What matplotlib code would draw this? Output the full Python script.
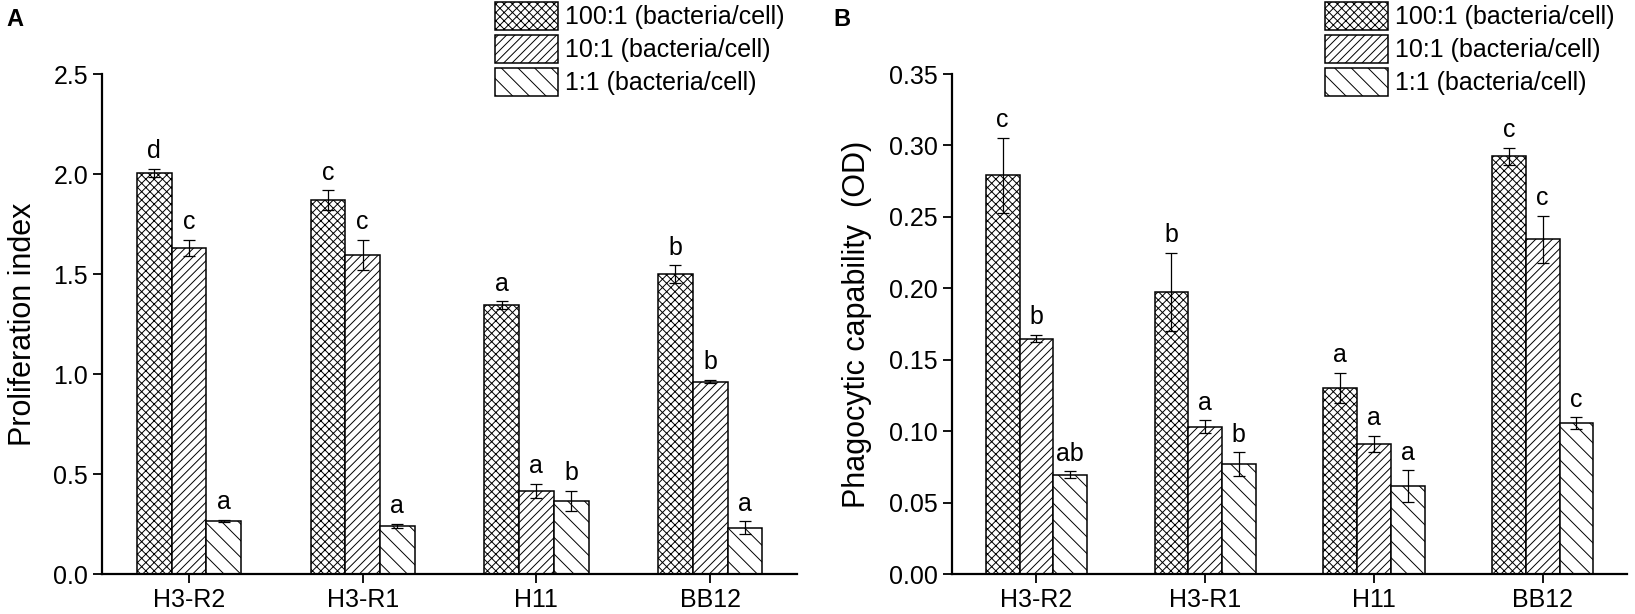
import numpy as np
import matplotlib
matplotlib.use("Agg")
import matplotlib.pyplot as plt
from matplotlib.patches import Patch

plt.rcParams['font.family'] = ['Liberation Sans', 'DejaVu Sans']
plt.rcParams['hatch.linewidth'] = 0.7

categories = ["H3-R2", "H3-R1", "H11", "BB12"]
series_labels = ["100:1 (bacteria/cell)", "10:1 (bacteria/cell)", "1:1 (bacteria/cell)"]

# Panel A: Proliferation index
a_100 = [2.005, 1.870, 1.345, 1.498]
a_100_err = [0.020, 0.048, 0.018, 0.045]
a_10 = [1.630, 1.594, 0.415, 0.962]
a_10_err = [0.040, 0.076, 0.037, 0.008]
a_1 = [0.266, 0.241, 0.365, 0.231]
a_1_err = [0.005, 0.010, 0.050, 0.033]
a_letters_100 = ["d", "c", "a", "b"]
a_letters_10 = ["c", "c", "a", "b"]
a_letters_1 = ["a", "a", "b", "a"]
a_yticks = [0.0, 0.5, 1.0, 1.5, 2.0, 2.5]

# Panel B: Phagocytic capability (OD)
b_100 = [0.2790, 0.1975, 0.1305, 0.2924]
b_100_err = [0.0265, 0.0273, 0.0105, 0.0060]
b_10 = [0.1647, 0.1030, 0.0911, 0.2343]
b_10_err = [0.0026, 0.0045, 0.0056, 0.0166]
b_1 = [0.0695, 0.0769, 0.0613, 0.1056]
b_1_err = [0.0025, 0.0084, 0.0112, 0.0040]
b_letters_100 = ["c", "b", "a", "c"]
b_letters_10 = ["b", "a", "a", "c"]
b_letters_1 = ["ab", "b", "a", "c"]
b_yticks = [0.00, 0.05, 0.10, 0.15, 0.20, 0.25, 0.30, 0.35]

hatches = ["xxxx", "////", "\\\\"]
FS = 18

fig = plt.figure(figsize=(16.35, 6.14), dpi=100)
axA = fig.add_axes([102/1635, 40/614, 695/1635, 500/614])
axB = fig.add_axes([952/1635, 40/614, 675/1635, 500/614])


def draw(ax, vals, errs, letters, yticks, fmt, ylabel, ylabel_x):
    x = np.arange(len(categories))
    w = 0.2
    ymax = yticks[-1]
    for i, (v, e, lt, h) in enumerate(zip(vals, errs, letters, hatches)):
        pos = x + (i - 1) * w
        ax.bar(pos, v, w, color="white", edgecolor="black", hatch=h,
               linewidth=1.1, zorder=2)
        ax.errorbar(pos, v, yerr=e, fmt="none", ecolor="black",
                    elinewidth=0.9, capsize=4, capthick=0.9, zorder=3)
        for p, vv, ee, t in zip(pos, v, e, lt):
            ax.annotate(t, (p, vv + ee), xytext=(0, 4), textcoords="offset points",
                        ha="center", va="bottom", fontsize=FS)
    ax.set_xlim(-0.5, 3.5)
    ax.set_ylim(0, ymax)
    ax.set_xticks(x)
    ax.set_xticklabels(categories, fontsize=FS)
    ax.set_yticks(yticks)
    ax.set_yticklabels([fmt.format(t) for t in yticks], fontsize=FS)
    for s in ["top", "right"]:
        ax.spines[s].set_visible(False)
    for s in ["left", "bottom"]:
        ax.spines[s].set_linewidth(1.6)
    ax.tick_params(direction="out", length=6.5, width=1.3, pad=3.5)
    ax.set_ylabel(ylabel, fontsize=22)
    ax.yaxis.set_label_coords(ylabel_x, 0.5)


draw(axA, [a_100, a_10, a_1], [a_100_err, a_10_err, a_1_err],
     [a_letters_100, a_letters_10, a_letters_1], a_yticks, "{:.1f}",
     "Proliferation index", -0.092)
draw(axB, [b_100, b_10, b_1], [b_100_err, b_10_err, b_1_err],
     [b_letters_100, b_letters_10, b_letters_1], b_yticks, "{:.2f}",
     "Phagocytic capability  (OD)", -0.1185)

handles = [Patch(facecolor="white", edgecolor="black", hatch=h, linewidth=1.1)
           for h in hatches]
for ax, xl in [(axA, 495/1635), (axB, 1325/1635)]:
    fig.legend(handles, series_labels, loc="upper left",
               bbox_to_anchor=(xl, 0.997), frameon=False, fontsize=FS,
               handlelength=2.5, handleheight=1.35, handletextpad=0.3,
               labelspacing=0.2, borderpad=0, borderaxespad=0)

fig.text(6/1635, 1 - 26/614, "A", fontsize=17, fontweight="bold")
fig.text(833/1635, 1 - 26/614, "B", fontsize=17, fontweight="bold")

fig.savefig("out.png", dpi=100)
